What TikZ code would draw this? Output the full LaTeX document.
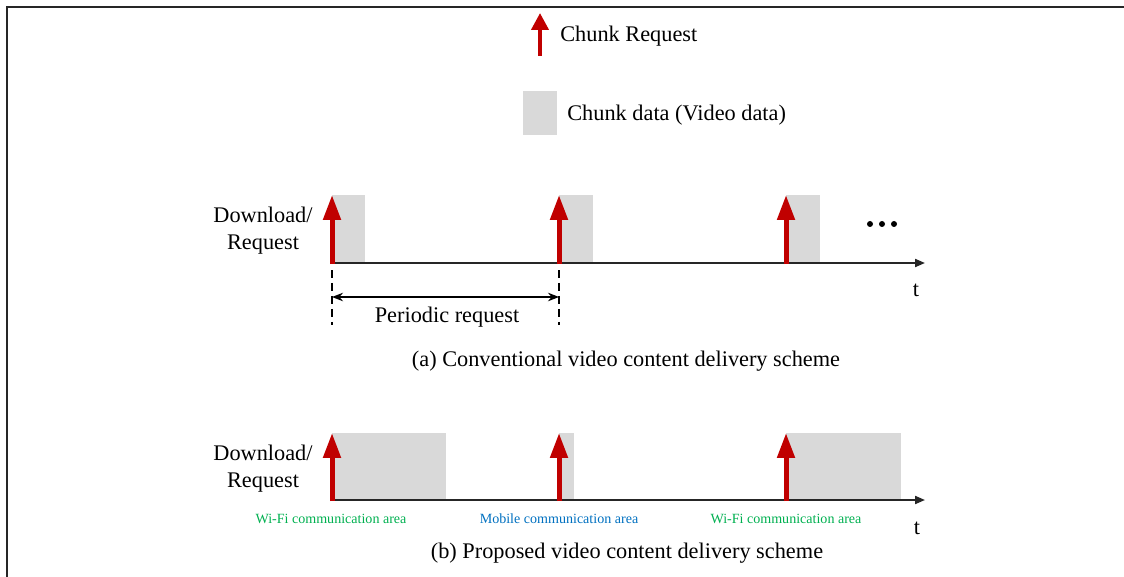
\documentclass[tikz,border=0pt]{standalone}
\usepackage{fontspec}
\setmainfont{Liberation Serif}
\usetikzlibrary{arrows.meta}
\definecolor{reqred}{HTML}{C00000}
\definecolor{chunkgray}{HTML}{D9D9D9}
\definecolor{wifigreen}{HTML}{00B050}
\definecolor{mobileblue}{HTML}{0070C0}
\tikzset{
  request/.style={draw=reqred, line width=0.1cm, -{Triangle[length=0.5cm,width=0.34cm,fill=reqred]}},
  timeaxis/.style={draw=black!85, line width=0.04cm, -{Triangle[length=0.2cm,width=0.16cm]}},
  chunk/.style={fill=chunkgray, draw=none},
  area/.style={font=\fontsize{8}{10}\selectfont, inner sep=0},
}
\begin{document}
\begin{tikzpicture}[x=0.02cm, y=-0.02cm, every node/.style={font=\fontsize{12.7}{15.3}\selectfont, inner sep=0}]
          \useasboundingbox (0,0) rectangle (1124,577);
          \draw [black!85, line width=0.04cm] (7,577) -- (7,7) -- (1124,7);
          % legend
          \coordinate (lb) at (540,56);
          \coordinate (lt) at (540,13);
          \draw [draw=reqred, line width=0.08cm, -{Triangle[length=0.34cm,width=0.34cm,fill=reqred]}] (lb) -- (lt);
          \node [anchor=west] (lreq) at (560,36) {Chunk Request};
          \node [chunk, minimum width=0.68cm, minimum height=0.88cm] (lbox) at (540,113) {};
          \node [anchor=west] (lchunk) at (567,115) {Chunk data (Video data)};
          % (a) conventional
          \fill [chunkgray] (332,195) rectangle (365,263);
          \fill [chunkgray] (559,195) rectangle (593,263);
          \fill [chunkgray] (786,195) rectangle (820,263);
          \coordinate (a0) at (330,263);
          \coordinate (a1) at (925,263);
          \draw [timeaxis] (a0) -- (a1);
          \coordinate (ra1) at (332,264);
          \coordinate (ta1) at (332,195);
          \coordinate (ra2) at (559,264);
          \coordinate (ta2) at (559,195);
          \coordinate (ra3) at (786,264);
          \coordinate (ta3) at (786,195);
          \draw [request] (ra1) -- (ta1);
          \draw [request] (ra2) -- (ta2);
          \draw [request] (ra3) -- (ta3);
          \node [align=center] (adl) at (263,231) {Download/\\Request};
          \fill (870,224) circle [radius=0.06cm];
          \fill (882,224) circle [radius=0.06cm];
          \fill (894,224) circle [radius=0.06cm];
          \node (at) at (916,290) {t};
          \coordinate (da1) at (332,270);
          \coordinate (db1) at (332,325);
          \coordinate (da2) at (559,270);
          \coordinate (db2) at (559,325);
          \draw [dashed, dash pattern=on 0.16cm off 0.1cm, line width=0.025cm] (da1) -- (db1);
          \draw [dashed, dash pattern=on 0.16cm off 0.1cm, line width=0.025cm] (da2) -- (db2);
          \coordinate (pl) at (332,297);
          \coordinate (pr) at (559,297);
          \draw [line width=0.025cm, {Stealth[length=0.22cm,width=0.17cm]}-{Stealth[length=0.22cm,width=0.17cm]}] (pl) -- (pr);
          \node (per) at (447,317) {Periodic request};
          \node (capa) at (626,361) {(a) Conventional video content delivery scheme};
          % (b) proposed
          \fill [chunkgray] (332,433) rectangle (446,500);
          \fill [chunkgray] (559,433) rectangle (574,500);
          \fill [chunkgray] (786,433) rectangle (901,500);
          \coordinate (b0) at (330,500);
          \coordinate (b1) at (925,500);
          \draw [timeaxis] (b0) -- (b1);
          \coordinate (rb1) at (332,501);
          \coordinate (tb1) at (332,433);
          \coordinate (rb2) at (559,501);
          \coordinate (tb2) at (559,433);
          \coordinate (rb3) at (786,501);
          \coordinate (tb3) at (786,433);
          \draw [request] (rb1) -- (tb1);
          \draw [request] (rb2) -- (tb2);
          \draw [request] (rb3) -- (tb3);
          \node [align=center] (bdl) at (263,469) {Download/\\Request};
          \node [area, text=wifigreen] (w1) at (331,519) {Wi-Fi communication area};
          \node [area, text=mobileblue] (m1) at (559,519) {Mobile communication area};
          \node [area, text=wifigreen] (w2) at (786,519) {Wi-Fi communication area};
          \node (bt) at (917,528) {t};
          \node (capb) at (627,553) {(b) Proposed video content delivery scheme};
        \end{tikzpicture}
\end{document}
